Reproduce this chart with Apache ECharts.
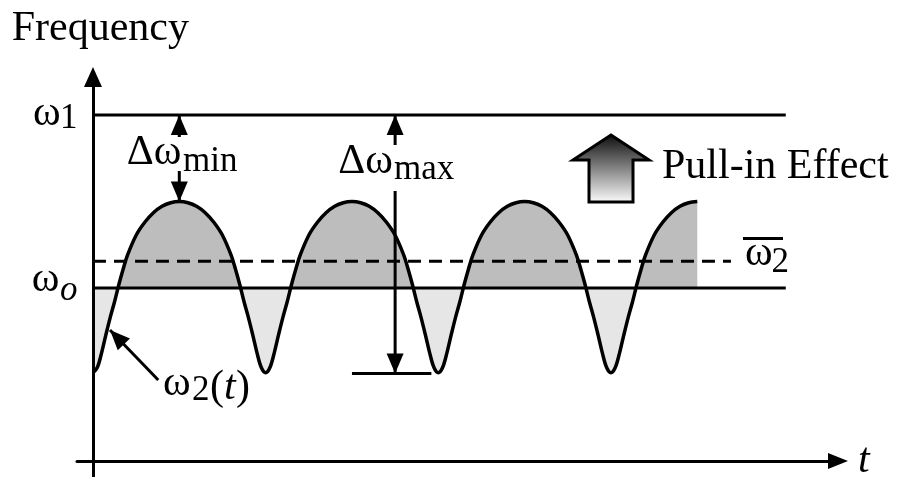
<!DOCTYPE html>
<html>
<head>
<meta charset="utf-8">
<script src="https://cdn.jsdelivr.net/npm/echarts@6/dist/echarts.min.js"></script>
<style>html,body{margin:0;padding:0;background:#fff}#chart{width:898px;height:477px}</style>
</head>
<body>
<div id="chart"></div>
<script>
// t: 1 unit = 1/20 of a beat period (troughs at 0,20,40,60)
var timeT = [0,0.5,1,1.5,2,2.5,3,3.5,4,5,6,7,8,9,10,
  11,12,13,14,15,16,16.5,17,17.5,18,18.5,19,19.5,20,
  20.5,21,21.5,22,22.5,23,23.5,24,25,26,27,28,29,30,
  31,32,33,34,35,36,36.5,37,37.5,38,38.5,39,39.5,40,
  40.5,41,41.5,42,42.5,43,43.5,44,45,46,47,48,49,50,
  51,52,53,54,55,56,56.5,57,57.5,58,58.5,59,59.5,60,
  60.5,61,61.5,62,62.5,63,63.5,64,65,66,67,68,69,70];
var omega2 = [5.1,5.4,6.25,7.3,8.3,9.2,10.2,11.1,11.9,13.05,13.8,14.35,14.72,14.93,15,
  14.93,14.72,14.35,13.8,13.05,11.9,11.1,10.2,9.2,8.3,7.3,6.25,5.4,5.1,
  5.4,6.25,7.3,8.3,9.2,10.2,11.1,11.9,13.05,13.8,14.35,14.72,14.93,15,
  14.93,14.72,14.35,13.8,13.05,11.9,11.1,10.2,9.2,8.3,7.3,6.25,5.4,5.1,
  5.4,6.25,7.3,8.3,9.2,10.2,11.1,11.9,13.05,13.8,14.35,14.72,14.93,15,
  14.93,14.72,14.35,13.8,13.05,11.9,11.1,10.2,9.2,8.3,7.3,6.25,5.4,5.1,
  5.4,6.25,7.3,8.3,9.2,10.2,11.1,11.9,13.05,13.8,14.35,14.72,14.93,15];

var omega1 = 20, omegaO = 10, omega2Mean = 11.55;
var levelEndT = 80.25, meanEndT = 73.9;
var dMinT = 10, dMinLow = 15;
var dMaxT = 35, dMaxLow = 5.05, dMaxBarT = [30, 39.2];
var pointerFrom = [7.56, 4.68], pointerTo = [1.97, 7.57];

var FONT = '"Liberation Serif", "Times New Roman", serif';
var H = 477;
var curve = timeT.map(function (t, i) { return [t, omega2[i]]; });

var chart = echarts.init(document.getElementById('chart'));
chart.setOption({
  animation: false,
  grid: {left: 77, right: 60, top: 77, bottom: 0},
  xAxis: {
    type: 'value', min: -1.85, max: 86.3, z: 5,
    axisLine: {onZero: true, symbol: ['none', 'triangle'], symbolSize: [16, 20],
      lineStyle: {color: '#000', width: 3}},
    axisTick: {show: false}, axisLabel: {show: false}, splitLine: {show: false}
  },
  yAxis: {
    type: 'value', min: -0.93, max: 22.2, z: 5,
    axisLine: {show: true, onZero: true, symbol: ['none', 'triangle'], symbolSize: [18, 20],
      lineStyle: {color: '#000', width: 3}},
    axisTick: {show: false}, axisLabel: {show: false}, splitLine: {show: false}
  }
});

function px(p) { return chart.convertToPixel({gridIndex: 0}, p); }
function seg(a, b) {
  return {type: 'line', z: 50, shape: {x1: a[0], y1: a[1], x2: b[0], y2: b[1]},
    style: {stroke: '#000', lineWidth: 3}};
}
function head(tip, from, len, w) {
  var dx = tip[0] - from[0], dy = tip[1] - from[1];
  var d = Math.sqrt(dx * dx + dy * dy), ux = dx / d, uy = dy / d;
  var bx = tip[0] - ux * len, by = tip[1] - uy * len;
  return {type: 'polygon', z: 51,
    shape: {points: [tip, [bx - uy * w / 2, by + ux * w / 2], [bx + uy * w / 2, by - ux * w / 2]]},
    style: {fill: '#000'}};
}
function txt(s, x, y, size, italic) {
  return {type: 'text', z: 60, x: x, y: y - 0.31 * size,
    style: {text: s, fontFamily: FONT, fontSize: size, fontStyle: italic ? 'italic' : 'normal',
      fill: '#000', textAlign: 'left', textVerticalAlign: 'middle'}};
}
function white(x, y, w, h) {
  return {type: 'rect', z: 55, shape: {x: x, y: y, width: w, height: h}, style: {fill: '#fff'}};
}
// vertical colour split at the ωo level, in page pixels
function split(above, below) {
  var f = px([0, omegaO])[1] / H;
  return new echarts.graphic.LinearGradient(0, 0, 0, H, [
    {offset: 0, color: above}, {offset: f, color: above},
    {offset: f, color: below}, {offset: 1, color: below}], true);
}

var minTop = px([dMinT, omega1]), minBot = px([dMinT, dMinLow]);
var maxTop = px([dMaxT, omega1]), maxBot = px([dMaxT, dMaxLow]);
var barA = px([dMaxBarT[0], dMaxLow]), barB = px([dMaxBarT[1], dMaxLow]);
var pA = px(pointerFrom), pB = px(pointerTo);

chart.setOption({
  series: [
    // under the curve: grey only above ωo
    {type: 'line', data: curve, smooth: 0.35, showSymbol: false, silent: true, z: 1,
      lineStyle: {width: 0, opacity: 0},
      areaStyle: {origin: 'start', opacity: 1, color: split('#bdbdbd', 'rgba(255,255,255,0)')}},
    // over the curve: light grey only below ωo
    {type: 'line', data: curve, smooth: 0.35, showSymbol: false, silent: true, z: 1,
      lineStyle: {width: 0, opacity: 0},
      areaStyle: {origin: 'end', opacity: 1, color: split('rgba(255,255,255,0)', '#e6e6e6')}},
    {type: 'line', data: [[0, omega1], [levelEndT, omega1]], showSymbol: false, z: 2,
      lineStyle: {color: '#000', width: 3}},
    {type: 'line', data: [[0, omegaO], [levelEndT, omegaO]], showSymbol: false, z: 2,
      lineStyle: {color: '#000', width: 3}},
    {type: 'line', data: [[0, omega2Mean], [meanEndT, omega2Mean]], showSymbol: false, z: 2,
      lineStyle: {color: '#000', width: 3, type: [13, 8]}},
    {type: 'line', data: curve, smooth: 0.35, showSymbol: false, z: 3,
      lineStyle: {color: '#000', width: 3.5}}
  ],
  graphic: [
    seg(minTop, minBot), head(minTop, minBot, 20, 17), head(minBot, minTop, 20, 17),
    seg(maxTop, maxBot), head(maxTop, maxBot, 20, 17), head(maxBot, maxTop, 20, 17),
    seg(barA, barB),
    seg(pA, pB), head(pB, pA, 20, 17),
    white(173, 137, 14, 34), white(389, 145, 12, 46),
    {type: 'polygon', z: 40,
      shape: {points: [[611, 135], [649, 160], [633, 160], [633, 202], [589, 202], [589, 160], [573, 160]]},
      style: {stroke: '#000', lineWidth: 3,
        fill: new echarts.graphic.LinearGradient(0, 0, 0, 1, [
          {offset: 0, color: '#0a0a0a'}, {offset: 1, color: '#ffffff'}])}},
    txt('Frequency', 11.7, 42, 42),
    txt('ω', 33, 127, 42), txt('1', 60, 130, 35),
    txt('ω', 31.7, 293, 42), txt('o', 60, 301.7, 35, true),
    txt('Δω', 126.7, 166, 42), txt('min', 183, 173, 35),
    txt('Δω', 338.3, 175, 42), txt('max', 394, 181, 35),
    txt('Pull-in Effect', 662, 179.5, 42),
    txt('ω', 745, 266.5, 42), txt('2', 771.5, 274, 35),
    {type: 'rect', z: 60, shape: {x: 743, y: 237, width: 40, height: 3}, style: {fill: '#000'}},
    txt('ω', 163, 397, 42), txt('2', 192, 402, 35),
    txt('(', 210, 401, 42), txt('t', 224, 401, 42, true), txt(')', 236, 401, 42),
    txt('t', 858, 474, 42, true)
  ]
});
</script>
</body>
</html>
